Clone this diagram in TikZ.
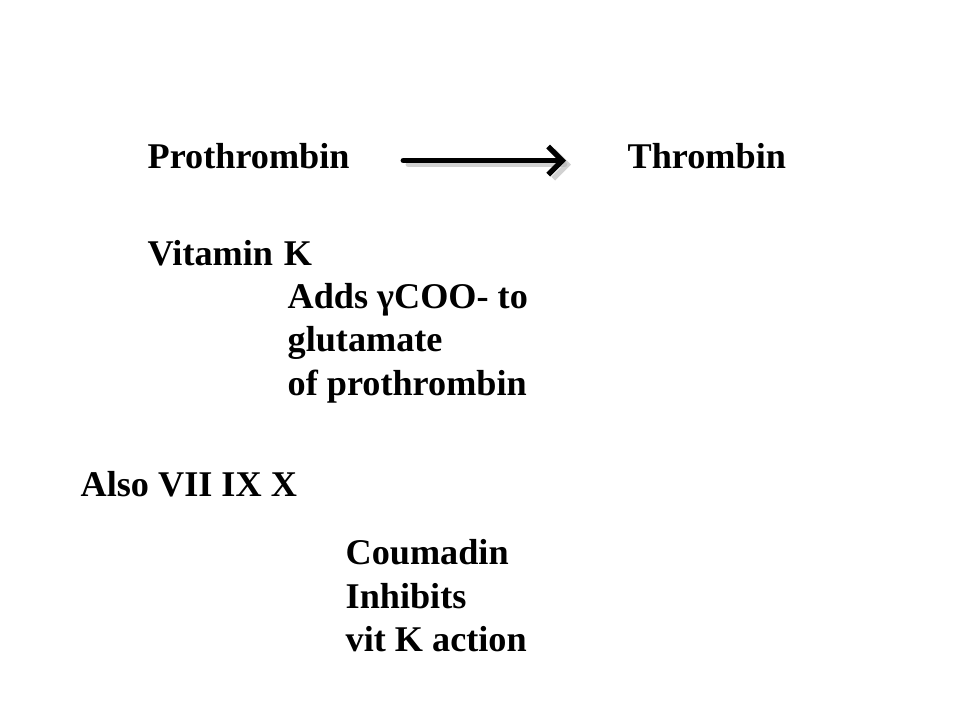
\documentclass[tikz,border=0pt]{standalone}
\usepackage{fontspec}
\setmainfont{Liberation Serif}
\usetikzlibrary{arrows.meta,calc}

\tikzset{
	lbl/.style={anchor=base west, inner sep=0pt, font=\fontsize{10.3}{12.5}\selectfont\bfseries},
	conv/.style={line width=1.5pt, -{Straight Barb[length=4pt,width=8pt,line width=1.5pt]}, line cap=round, line join=round},
}

\begin{document}
\begin{tikzpicture}
	\useasboundingbox (0,0) rectangle (9.6,7.2);
	% top row
	\node[lbl] (pro) at (1.47,5.51) {Prothrombin};
	\node[lbl] (thr) at (6.27,5.51) {Thrombin};
	\draw[conv, draw=black!30, opacity=0.6, shorten <=0.55cm, shorten >=0.59cm] ($(pro.east)+(0.03,-0.08)$) -- ($(thr.west)+(0.03,-0.08)$);
	\draw[conv, shorten <=0.53cm, shorten >=0.61cm] ($(pro.east)+(0,-0.04)$) -- ($(thr.west)+(0,-0.04)$);
	% vitamin K
	\node[lbl] (vitk) at (1.47,4.54) {Vitamin\hspace{0.3em}K};
	\node[lbl] (adds) at (2.87,4.11) {Adds γCOO- to};
	\node[lbl] (glu) at (2.87,3.68) {glutamate};
	\node[lbl] (ofp) at (2.87,3.24) {of prothrombin};
	% other factors
	\node[lbl] (also) at (0.80,2.23) {Also VII IX X};
	% coumadin
	\node[lbl] (coum) at (3.45,1.55) {Coumadin};
	\node[lbl] (inh) at (3.45,1.11) {Inhibits};
	\node[lbl] (vka) at (3.45,0.68) {vit K action};
\end{tikzpicture}
\end{document}
